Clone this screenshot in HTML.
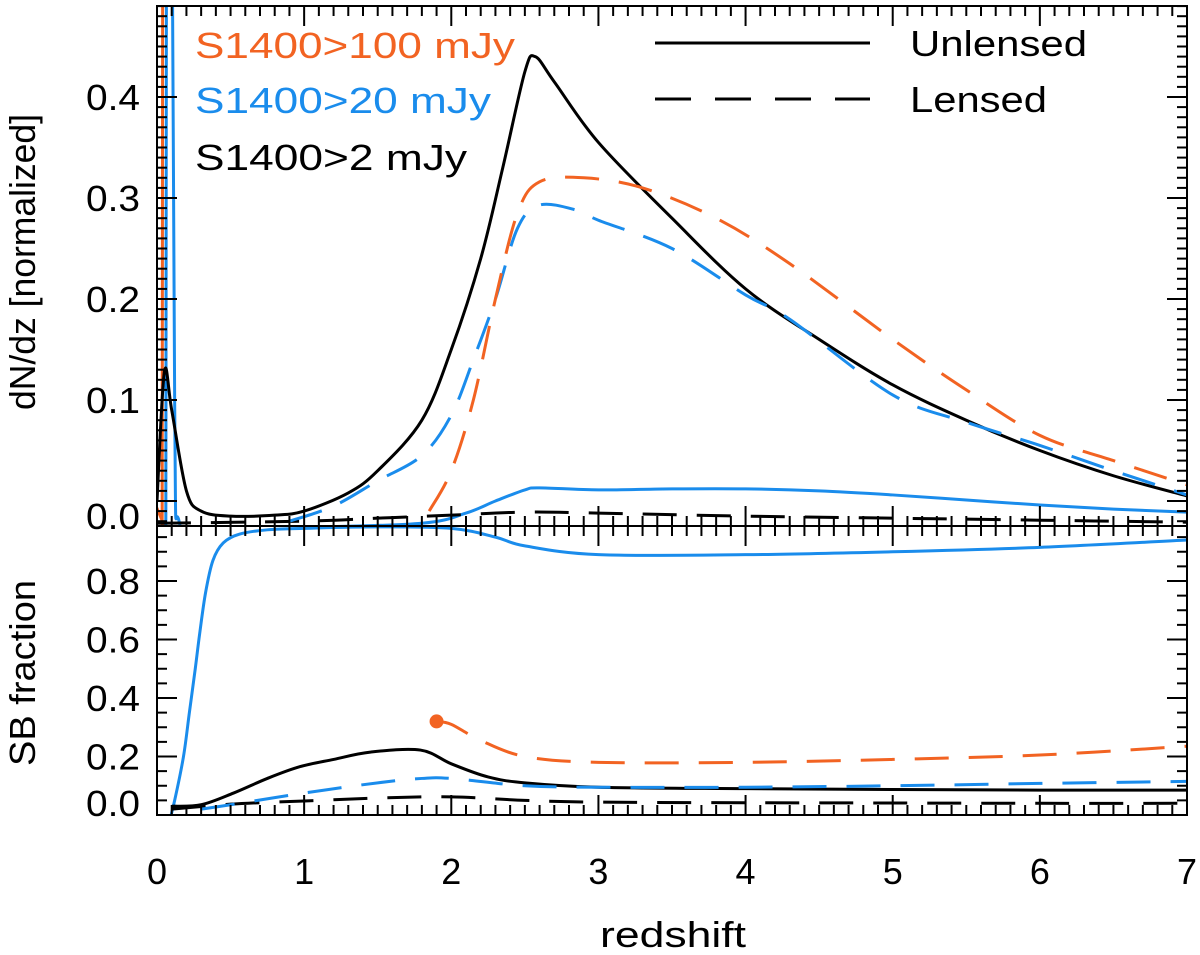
<!DOCTYPE html>
<html><head><meta charset="utf-8"><style>
body{margin:0;background:#fff}
svg{display:block;font-family:"Liberation Sans",Arial,sans-serif}
</style></head><body>
<svg id="chart" width="1200" height="955" viewBox="0 0 1200 955"></svg>
<script>
// ---- data ----
const zBlackUn = [0,0.05,0.1,0.2,0.3,0.5,0.8,1,1.3,1.5,1.8,2,2.2,2.35,2.5,2.57,2.7,3,3.5,4,4.5,5,5.5,6,6.5,7];
const vBlackUn = [0,0.128,0.09,0.01,-0.01,-0.015,-0.014,-0.01,0.008,0.03,0.08,0.15,0.24,0.33,0.425,0.44,0.415,0.355,0.28,0.21,0.16,0.115,0.08,0.05,0.025,0.005];
const zBlackLe = [0,1,1.5,2,2.5,3,4,5,6,7];
const vBlackLe = [-0.022,-0.02,-0.017,-0.014,-0.011,-0.012,-0.015,-0.017,-0.019,-0.021];
const zOrangeUn = [0,0.035,0.045,0.06,0.07,7];
const vOrangeUn = [-0.03,-0.03,2,2,-0.03,-0.03];
const zBlueUn = [0,0.06,0.07,0.09,0.12,0.15,0.3,1,1.8,2.1,2.3,2.5,2.6,3,3.5,4,4.5,5,5.5,6,6.5,7];
const vBlueUn = [-0.03,-0.03,2,1.0,0.1,-0.02,-0.026,-0.026,-0.022,-0.012,0.0,0.011,0.013,0.011,0.012,0.012,0.01,0.006,0.001,-0.004,-0.008,-0.011];
const zBlueLe = [0.9,1.2,1.5,1.8,2,2.15,2.3,2.45,2.6,2.85,3,3.5,4,4.3,5,5.5,6,6.5,7];
const vBlueLe = [-0.02,-0.005,0.02,0.045,0.085,0.14,0.2,0.27,0.293,0.288,0.278,0.25,0.204,0.18,0.105,0.078,0.055,0.03,0.006];
const zOrangeLe = [1.85,2,2.15,2.3,2.45,2.6,2.9,3.3,3.8,4.3,5,5.5,6,6.5,7];
const vOrangeLe = [-0.01,0.03,0.1,0.2,0.285,0.316,0.32,0.31,0.28,0.235,0.16,0.11,0.065,0.04,0.016];
// lower panel (SB fraction)
const zBlueSB = [0.07,0.12,0.18,0.22,0.26,0.29,0.33,0.38,0.45,0.56,0.75,1,1.5,2,2.3,2.5,3,4,5,6,7];
const vBlueSB = [-0.05,0.05,0.2,0.35,0.5,0.62,0.76,0.87,0.93,0.96,0.975,0.98,0.985,0.98,0.95,0.92,0.89,0.89,0.9,0.915,0.94];
const zBlackSB = [0.1,0.3,0.52,0.75,0.97,1.2,1.45,1.79,2,2.25,2.5,3,4,5,6,7];
const vBlackSB = [0.03,0.035,0.075,0.125,0.165,0.19,0.215,0.222,0.175,0.13,0.11,0.095,0.09,0.087,0.085,0.085];
const zBlackSBLe = [0.1,0.5,1,1.5,2,2.5,3,4,5,6,7];
const vBlackSBLe = [0.02,0.037,0.048,0.058,0.062,0.05,0.044,0.042,0.041,0.04,0.04];
const zBlueSBLe = [0.3,0.5,1,1.5,1.8,2,2.5,3,4,5,6,7];
const vBlueSBLe = [0.02,0.035,0.075,0.11,0.125,0.125,0.1,0.095,0.095,0.1,0.108,0.115];
const zOrangeSBLe = [1.9,2,2.2,2.5,3,4,5,6,7];
const vOrangeSBLe = [0.32,0.31,0.255,0.2,0.18,0.18,0.19,0.205,0.235];
const xTicks = [0,1,2,3,4,5,6,7];
const yTicksTop = [0.0,0.1,0.2,0.3,0.4];
const yTicksBot = [0.0,0.2,0.4,0.6,0.8];

// ---- layout ----
const X0=157,X1=1187,TOP=6,MID=526,BOT=815;
const ORANGE="#f26322",BLUE="#1a8cec",BLACK="#000";
const sx=z=>X0+(X1-X0)*z/7;
const syT=v=>501-1010*v;
const syB=v=>815-292.5*v;
const svg=document.getElementById('chart');
const NS="http://www.w3.org/2000/svg";
function mk(tag,attrs,parent){const e=document.createElementNS(NS,tag);for(const k in attrs)e.setAttribute(k,attrs[k]);(parent||svg).appendChild(e);return e;}
const defs=mk('defs',{});
const c1=mk('clipPath',{id:'clipTop'},defs);mk('rect',{x:X0,y:TOP,width:X1-X0,height:MID-TOP},c1);
const c2=mk('clipPath',{id:'clipBot'},defs);mk('rect',{x:X0,y:MID,width:X1-X0,height:BOT-MID},c2);
function pathD(zs,vs,sy){
  const p=zs.map((z,i)=>[sx(z),sy(vs[i])]);
  let d=`M${p[0][0]},${p[0][1]}`;
  for(let i=0;i<p.length-1;i++){
    const p0=p[i-1]||p[i],p1=p[i],p2=p[i+1],p3=p[i+2]||p2;
    const t=1/6;
    d+=` C${p1[0]+(p2[0]-p0[0])*t},${p1[1]+(p2[1]-p0[1])*t} ${p2[0]-(p3[0]-p1[0])*t},${p2[1]-(p3[1]-p1[1])*t} ${p2[0]},${p2[1]}`;
  }
  return d;
}
function line(name,zs,vs,sy,color,dashed,clip){
  const e=mk('path',{d:pathD(zs,vs,sy),fill:'none',stroke:color,'stroke-width':3,'clip-path':`url(#${clip})`});
  if(dashed)e.setAttribute('stroke-dasharray','34 20');
  
  
}
line('orange-unlensed-dndz',zOrangeUn,vOrangeUn,syT,ORANGE,false,'clipTop');
line('blue-unlensed-dndz',zBlueUn,vBlueUn,syT,BLUE,false,'clipTop');
line('black-unlensed-dndz',zBlackUn,vBlackUn,syT,BLACK,false,'clipTop');
line('black-lensed-dndz',zBlackLe,vBlackLe,syT,BLACK,true,'clipTop');
line('blue-lensed-dndz',zBlueLe,vBlueLe,syT,BLUE,true,'clipTop');
line('orange-lensed-dndz',zOrangeLe,vOrangeLe,syT,ORANGE,true,'clipTop');
line('blue-sb-fraction',zBlueSB,vBlueSB,syB,BLUE,false,'clipBot');
line('black-sb-fraction',zBlackSB,vBlackSB,syB,BLACK,false,'clipBot');
line('black-lensed-sb-fraction',zBlackSBLe,vBlackSBLe,syB,BLACK,true,'clipBot');
line('blue-lensed-sb-fraction',zBlueSBLe,vBlueSBLe,syB,BLUE,true,'clipBot');
line('orange-lensed-sb-fraction',zOrangeSBLe,vOrangeSBLe,syB,ORANGE,true,'clipBot');
const dot=mk('circle',{cx:sx(zOrangeSBLe[0]),cy:syB(vOrangeSBLe[0]),r:7,fill:ORANGE});



const ax=mk('g',{stroke:'#000','stroke-width':2,fill:'none'});


mk('rect',{x:X0,y:TOP,width:X1-X0,height:BOT-TOP},ax);
mk('line',{x1:X0,y1:MID,x2:X1,y2:MID},ax);
for(let i=0;i<=70;i++){const x=sx(i/10),L=i%10===0?20:10;
  for(const y of [TOP,MID]){mk('line',{x1:x,y1:y,x2:x,y2:y+L},ax);}
  for(const y of [MID,BOT]){mk('line',{x1:x,y1:y,x2:x,y2:y-L},ax);}
}
for(let i=-2;i<=49;i++){const y=syT(i/100);if(y<TOP||y>MID)continue;const L=i%10===0?20:10;
  mk('line',{x1:X0,y1:y,x2:X0+L,y2:y},ax);mk('line',{x1:X1,y1:y,x2:X1-L,y2:y},ax);}
for(let i=0;i<=19;i++){const y=syB(i*0.05);if(y<MID)continue;const L=i%4===0?20:10;
  mk('line',{x1:X0,y1:y,x2:X0+L,y2:y},ax);mk('line',{x1:X1,y1:y,x2:X1-L,y2:y},ax);}
function txt(s,x,y,attrs,name){const e=mk('text',Object.assign({x:x,y:y,'font-size':36,fill:'#000'},attrs||{}));e.textContent=s;
  
  return e;}
xTicks.forEach(t=>txt(String(t),sx(t),884,{'text-anchor':'middle'},'x-tick-label'));
yTicksTop.forEach(t=>txt(t.toFixed(1),140,syT(t)+13+(t===0?15:0),{'text-anchor':'end',textLength:54,lengthAdjust:'spacingAndGlyphs'},'y-tick-label-top'));
yTicksBot.forEach(t=>txt(t.toFixed(1),140,syB(t)+13-(t===0?12:0),{'text-anchor':'end',textLength:54,lengthAdjust:'spacingAndGlyphs'},'y-tick-label-bottom'));
txt('redshift',600,947,{textLength:146,lengthAdjust:'spacingAndGlyphs'},'x-axis-title');
txt('dN/dz [normalized]',0,0,{textLength:296,lengthAdjust:'spacingAndGlyphs',transform:'translate(35,410) rotate(-90)'},'y-axis-title-top');
txt('SB fraction',0,0,{textLength:186,lengthAdjust:'spacingAndGlyphs',transform:'translate(35,766) rotate(-90)'},'y-axis-title-bottom');
txt('S1400>100 mJy',195,58,{fill:ORANGE,textLength:320,lengthAdjust:'spacingAndGlyphs'},'legend-orange');
txt('S1400>20 mJy',195,113,{fill:BLUE,textLength:296,lengthAdjust:'spacingAndGlyphs'},'legend-blue');
txt('S1400>2 mJy',195,170,{fill:BLACK,textLength:272,lengthAdjust:'spacingAndGlyphs'},'legend-black');
const l1=mk('line',{x1:655,y1:43,x2:870,y2:43,stroke:'#000','stroke-width':3});


const l2=mk('line',{x1:655,y1:99,x2:870,y2:99,stroke:'#000','stroke-width':3,'stroke-dasharray':'36 24'});


txt('Unlensed',910,56,{textLength:177,lengthAdjust:'spacingAndGlyphs'},'legend-unlensed-label');
txt('Lensed',910,112,{textLength:137,lengthAdjust:'spacingAndGlyphs'},'legend-lensed-label');
</script>
</body></html>
